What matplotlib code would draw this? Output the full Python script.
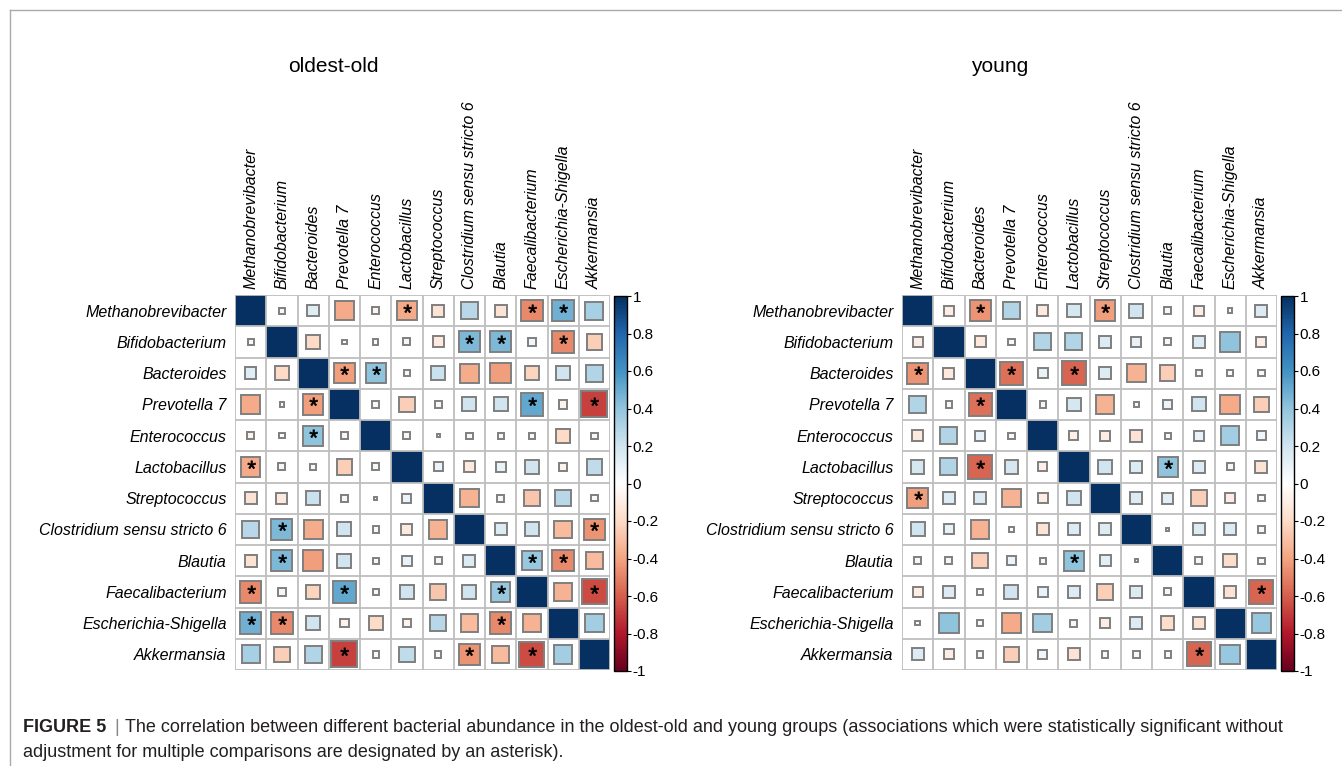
import numpy as np
import matplotlib
matplotlib.use("Agg")
import matplotlib.pyplot as plt
from matplotlib.colors import LinearSegmentedColormap, Normalize
from matplotlib.patches import Rectangle
from matplotlib.lines import Line2D
from matplotlib.colorbar import ColorbarBase
from matplotlib.textpath import TextPath
from matplotlib.font_manager import FontProperties
from matplotlib.path import Path

plt.rcParams["font.family"] = ["Liberation Sans", "DejaVu Sans"]

taxa = ["Methanobrevibacter", "Bifidobacterium", "Bacteroides", "Prevotella 7",
        "Enterococcus", "Lactobacillus", "Streptococcus",
        "Clostridium sensu stricto 6", "Blautia", "Faecalibacterium",
        "Escherichia-Shigella", "Akkermansia"]

# upper-triangle correlations, row i lists r(i, j) for j > i
oldest_old_upper = [
    [0.04, 0.14, -0.38, -0.06, -0.38, -0.15, 0.28, -0.15, -0.48, 0.48, 0.33],
    [-0.20, 0.02, 0.03, 0.05, -0.12, 0.45, 0.45, 0.07, -0.48, -0.25],
    [-0.42, 0.40, 0.04, 0.22, -0.37, -0.42, -0.22, 0.20, 0.30],
    [0.05, -0.25, 0.05, 0.20, 0.20, 0.52, -0.07, -0.68],
    [0.05, 0.01, 0.04, 0.04, 0.04, -0.20, 0.04],
    [0.08, -0.12, 0.10, 0.20, -0.07, 0.25],
    [-0.35, 0.05, -0.28, 0.28, 0.04],
    [0.15, 0.20, -0.32, -0.45],
    [0.38, -0.48, -0.32],
    [-0.35, -0.65],
    [0.35],
]
oldest_old_sig = [(0, 5), (0, 9), (0, 10), (1, 7), (1, 8), (1, 10), (2, 3), (2, 4),
                  (3, 9), (3, 11), (7, 11), (8, 9), (8, 10), (9, 11)]

young_upper = [
    [-0.10, -0.45, 0.30, -0.12, 0.18, -0.42, 0.20, 0.05, -0.10, 0.02, 0.15],
    [-0.12, -0.04, 0.30, 0.30, 0.15, 0.10, 0.05, 0.15, 0.40, -0.10],
    [-0.55, 0.10, -0.58, 0.15, -0.35, -0.25, 0.04, 0.03, 0.04],
    [0.04, 0.18, -0.35, 0.02, 0.08, 0.20, -0.38, -0.25],
    [-0.08, -0.10, -0.15, 0.04, 0.10, 0.35, 0.07],
    [0.20, 0.15, 0.40, 0.15, 0.05, -0.15],
    [0.15, 0.12, -0.25, -0.10, 0.04],
    [0.01, 0.15, 0.15, 0.05],
    [0.05, -0.18, 0.04],
    [-0.15, -0.58],
    [0.38],
]
young_sig = [(0, 2), (0, 6), (2, 3), (2, 5), (5, 8), (9, 11)]

cbar_ticks = [1, 0.8, 0.6, 0.4, 0.2, 0, -0.2, -0.4, -0.6, -0.8, -1]

palette = ["#67001F", "#B2182B", "#D6604D", "#F4A582", "#FDDBC7", "#FFFFFF",
           "#D1E5F0", "#92C5DE", "#4393C3", "#2166AC", "#053061"]
cmap = LinearSegmentedColormap.from_list("rdbu_corr", palette, N=256)
norm = Normalize(-1, 1)

# asterisk glyph centred on its own bounding box, used as a marker
_tp = TextPath((0, 0), "*", prop=FontProperties(family="Liberation Sans"), size=1)
_v = _tp.vertices
STAR = Path(_v - (_v.min(0) + _v.max(0)) / 2, _tp.codes)

W, H = 1342, 766
fig = plt.figure(figsize=(W / 100, H / 100), dpi=100)


def px_axes(x0, y0, w, h):
    return fig.add_axes([x0 / W, 1 - (y0 + h) / H, w / W, h / H])


def full_matrix(upper):
    n = len(taxa)
    m = np.eye(n)
    for i, row in enumerate(upper):
        for k, v in enumerate(row):
            j = i + 1 + k
            m[i, j] = m[j, i] = v
    return m


def draw_corr(ax, upper, sig):
    m = full_matrix(upper)
    n = len(taxa)
    ax.set_xlim(0, n)
    ax.set_ylim(n, 0)
    for i in range(n):
        for j in range(n):
            r = m[i, j]
            s = np.sqrt(abs(r))
            ax.add_patch(Rectangle((j + 0.5 - s / 2, i + 0.5 - s / 2), s, s,
                                   facecolor=cmap(norm(r)), edgecolor="#7F7F7F",
                                   lw=1.4 if i != j else 0, zorder=2))
    for k in range(n + 1):
        ax.axhline(k, color="#BEBEBE", lw=1.3, zorder=3)
        ax.axvline(k, color="#BEBEBE", lw=1.3, zorder=3)
    for (i, j) in sig:
        for (a, b) in ((i, j), (j, i)):
            ax.plot(b + 0.5, a + 0.53, marker=STAR, ms=11, color="black",
                    mec="black", mew=0.5, zorder=4)
    ax.set_yticks(np.arange(n) + 0.5)
    ax.set_yticklabels(taxa, fontstyle="italic", fontsize=11.5)
    ax.xaxis.tick_top()
    ax.set_xticks(np.arange(n) + 0.5)
    ax.set_xticklabels(taxa, fontstyle="italic", fontsize=11.5, rotation=90,
                       ha="center", va="bottom")
    ax.tick_params(length=0, pad=6)
    ax.tick_params(axis="x", pad=4)
    for sp in ax.spines.values():
        sp.set_visible(False)


def draw_cbar(cax):
    cb = ColorbarBase(cax, cmap=cmap, norm=norm, orientation="vertical")
    cb.set_ticks(cbar_ticks)
    cb.set_ticklabels([f"{t:g}" for t in cbar_ticks])
    cb.outline.set_linewidth(1.0)
    cb.outline.set_edgecolor("black")
    cax.tick_params(labelsize=11, length=3, width=0.8, pad=1)


ax1 = px_axes(235, 295, 375, 375)
draw_corr(ax1, oldest_old_upper, oldest_old_sig)
draw_cbar(px_axes(614, 296, 13, 375))

ax2 = px_axes(902, 295, 375, 375)
draw_corr(ax2, young_upper, young_sig)
draw_cbar(px_axes(1281, 296, 13, 375))

fig.text(333 / W, 1 - 67 / H, "oldest-old", fontsize=15, ha="center", va="center")
fig.text(1000 / W, 1 - 67 / H, "young", fontsize=15, ha="center", va="center")

# frame lines
fig.add_artist(Line2D([10 / W, 1], [1 - 10 / H, 1 - 10 / H], transform=fig.transFigure,
                      color="#AAAAAA", lw=1.0))
fig.add_artist(Line2D([10 / W, 10 / W], [1 - 10 / H, 0], transform=fig.transFigure,
                      color="#AAAAAA", lw=1.0))

# caption
cap_color = "#231F20"
cap_size = 13
renderer = fig.canvas.get_renderer()
t1 = fig.text(23 / W, 1 - 732 / H, "FIGURE 5", fontsize=cap_size, fontweight="bold",
              color=cap_color, va="baseline")
bb = t1.get_window_extent(renderer)
fig.text((bb.x1 + 8) / W, 1 - 732 / H, "|", fontsize=cap_size, color="#888888",
         va="baseline")
fig.text((bb.x1 + 19) / W, 1 - 732 / H,
         "The correlation between different bacterial abundance in the oldest-old and young "
         "groups (associations which were statistically significant without",
         fontsize=cap_size, color=cap_color, va="baseline")
fig.text(23 / W, 1 - 757 / H,
         "adjustment for multiple comparisons are designated by an asterisk).",
         fontsize=cap_size, color=cap_color, va="baseline")

fig.savefig("out.png", dpi=100)
